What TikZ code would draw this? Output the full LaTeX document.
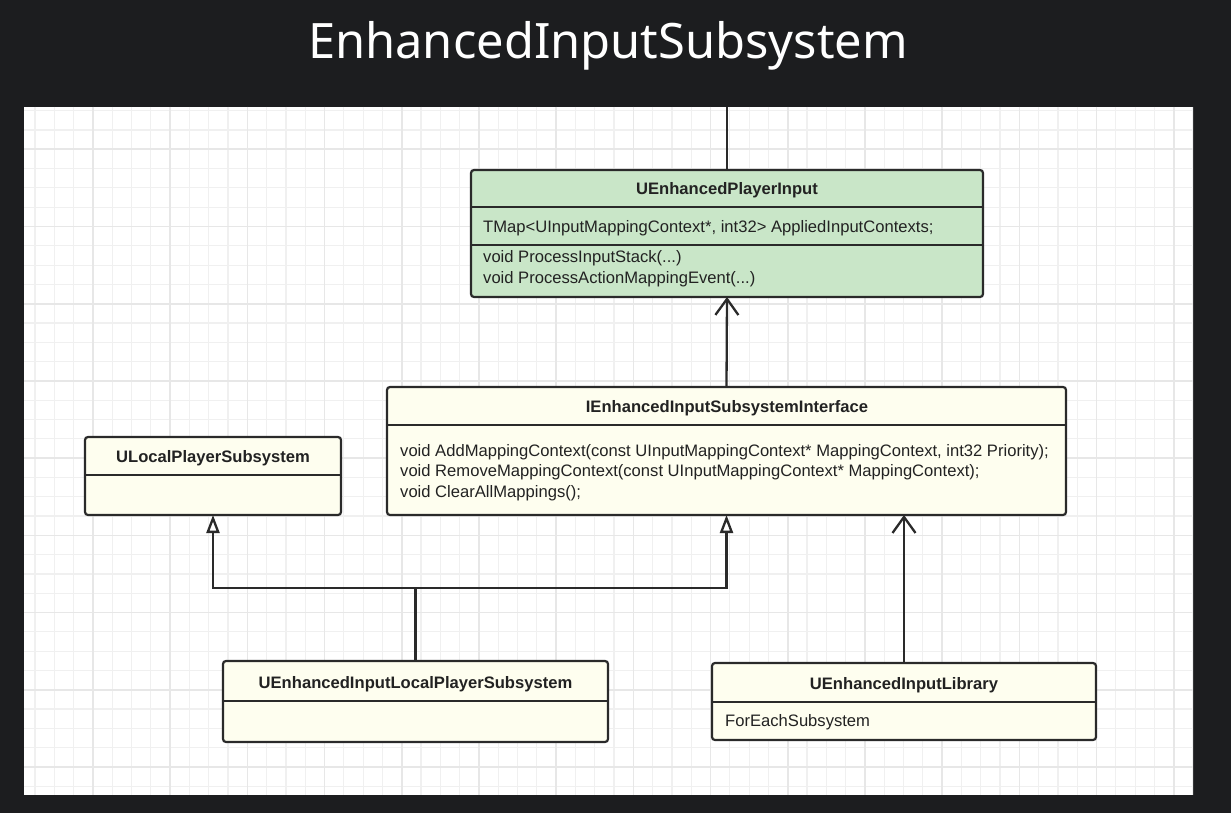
\documentclass[tikz,border=0pt]{standalone}
\usepackage{fontspec}
\setmainfont{Liberation Sans}
\newfontfamily\titlefont{Noto Sans}
\usetikzlibrary{arrows.meta}
\definecolor{bgdark}{HTML}{1C1D1F}
\definecolor{gridminor}{HTML}{F0F0F0}
\definecolor{gridmajor}{HTML}{E7E7E7}
\definecolor{greenfill}{HTML}{C9E6C8}
\definecolor{creamfill}{HTML}{FEFEEF}
\definecolor{linecol}{HTML}{2A2A2A}
\definecolor{txtcol}{HTML}{222222}
\begin{document}
\begin{tikzpicture}[x=1pt,y=-1pt,
  umlbox/.style={draw=linecol, line width=2.2pt, rounded corners=3pt, anchor=north west, inner sep=0pt, outer sep=0pt},
  sepline/.style={draw=linecol, line width=2pt},
  clsname/.style={anchor=base, font=\fontsize{16.6}{20}\selectfont\bfseries, text=txtcol, inner sep=0pt},
  member/.style={anchor=base west, font=\fontsize{16.6}{20}\selectfont, text=txtcol, inner sep=0pt},
  conn/.style={draw=linecol, line width=2.3pt},
  assoc/.style={conn, -{Straight Barb[length=16pt,width=23pt]}},
  gen/.style={conn, -{Triangle[open, fill=white, length=18pt, width=13pt]}},
  gridmin/.style={draw=gridminor, line width=1.2pt},
  gridmaj/.style={draw=gridmajor, line width=1.6pt}
]
\useasboundingbox (0,0) rectangle (1231,813);
\fill[bgdark] (0,0) rectangle (1231,813);

% title
\node[anchor=base, font=\titlefont\fontsize{48.8}{56}\selectfont, text=white, inner sep=0pt] (title) at (608,59) {EnhancedInputSubsystem};

% panel
\node[fill=white, anchor=north west, minimum width=1169pt, minimum height=688pt, inner sep=0pt, outer sep=0pt] (panel) at (24,107) {};
\begin{scope}
  \clip (24,107) rectangle (1193,795);
  \foreach \k in {0,...,60} {
    \pgfmathsetmacro\xx{35+19.3*\k}
    \draw[gridmin] (\xx,107) -- (\xx,795);
  }
  \foreach \k in {0,...,35} {
    \pgfmathsetmacro\yy{110.7+19.3*\k}
    \draw[gridmin] (24,\yy) -- (1193,\yy);
  }
  \foreach \k in {3,7,...,59} {
    \pgfmathsetmacro\xx{35+19.3*\k}
    \draw[gridmaj] (\xx,107) -- (\xx,795);
  }
  \foreach \k in {2,6,...,34} {
    \pgfmathsetmacro\yy{110.7+19.3*\k}
    \draw[gridmaj] (24,\yy) -- (1193,\yy);
  }
\end{scope}

% UEnhancedPlayerInput
\node[umlbox, fill=greenfill, minimum width=512pt, minimum height=127pt] (pin) at (471,170) {};
\draw[sepline] (471,207) -- (983,207);
\draw[sepline] (471,245) -- (983,245);
\node[clsname] (pinname) at (727,194.5) {UEnhancedPlayerInput};
\node[member] (pinattr) at (483,232.5) {TMap<UInputMappingContext*, int32> AppliedInputContexts;};
\node[member] (pinm1) at (483,262.5) {void ProcessInputStack(...)};
\node[member] (pinm2) at (483,283) {void ProcessActionMappingEvent(...)};

% IEnhancedInputSubsystemInterface
\node[umlbox, fill=creamfill, minimum width=679pt, minimum height=128pt] (iface) at (387,387) {};
\draw[sepline] (387,425) -- (1066,425);
\node[clsname] (ifacename) at (727,412.5) {IEnhancedInputSubsystemInterface};
\node[member] (ifm1) at (400,456) {void AddMappingContext(const UInputMappingContext* MappingContext, int32 Priority);};
\node[member] (ifm2) at (400,476.5) {void RemoveMappingContext(const UInputMappingContext* MappingContext);};
\node[member] (ifm3) at (400,497) {void ClearAllMappings();};

% ULocalPlayerSubsystem
\node[umlbox, fill=creamfill, minimum width=256pt, minimum height=78pt] (lps) at (85,437) {};
\draw[sepline] (85,475) -- (341,475);
\node[clsname] (lpsname) at (213,462) {ULocalPlayerSubsystem};

% UEnhancedInputLocalPlayerSubsystem
\node[umlbox, fill=creamfill, minimum width=385pt, minimum height=81pt] (eilps) at (223,661) {};
\draw[sepline] (223,701) -- (608,701);
\node[clsname] (eilpsname) at (415.5,688) {UEnhancedInputLocalPlayerSubsystem};

% UEnhancedInputLibrary
\node[umlbox, fill=creamfill, minimum width=384pt, minimum height=77pt] (lib) at (712,663) {};
\draw[sepline] (712,702) -- (1096,702);
\node[clsname] (libname) at (904,689) {UEnhancedInputLibrary};
\node[member] (libm1) at (725,726) {ForEachSubsystem};

% connectors
\coordinate (topend) at (727,107);
\draw[conn] (topend) -- (pin.north);
\draw[assoc] (iface.north) -- (pin.south);
\coordinate (junc) at (415.5,588);
\draw[conn] (eilps.north) -- (junc);
\draw[gen] (junc) -| (lps.south);
\draw[gen] (junc) -| (iface.south);
\draw[assoc] (lib.north) -- (lib.north |- iface.south);
\end{tikzpicture}
\end{document}
